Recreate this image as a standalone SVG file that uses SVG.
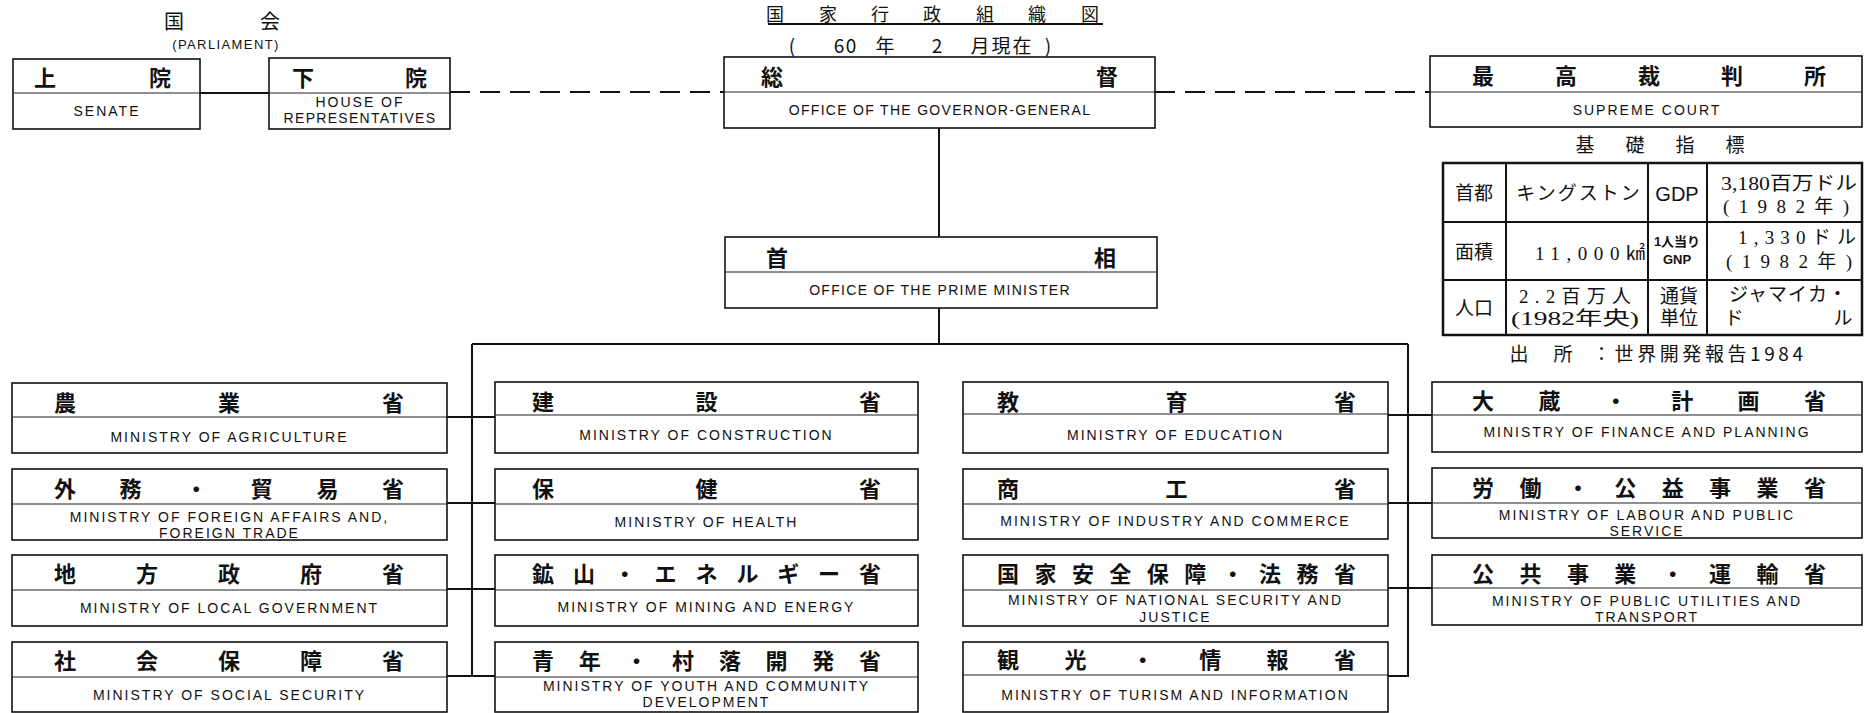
<svg xmlns="http://www.w3.org/2000/svg" width="1865" height="713" viewBox="0 0 1865 713">
<style>
.box{fill:#fff;stroke:#111;stroke-width:1.6}
.dv{stroke:#222;stroke-width:1.2;fill:none}
.jp{font-family:"Noto Sans CJK JP",sans-serif;font-size:22px;font-weight:700;text-anchor:middle;dominant-baseline:central;fill:#111}
.jt{font-family:"Noto Sans CJK JP",sans-serif;font-size:20px;text-anchor:middle;dominant-baseline:central;fill:#111}
.en{font-family:"Liberation Sans",Arial,sans-serif;font-size:14px;letter-spacing:2px;text-anchor:middle;dominant-baseline:central;fill:#111}
.tb{font-family:"Liberation Serif","Noto Sans CJK JP",serif;font-size:19px;text-anchor:middle;dominant-baseline:central;fill:#111}
.ts{font-family:"Liberation Sans","Noto Sans CJK JP",sans-serif;font-size:13px;font-weight:700;text-anchor:middle;dominant-baseline:central;fill:#111}
.ln{stroke:#111;stroke-width:2;fill:none}
.dash{stroke:#111;stroke-width:2;fill:none;stroke-dasharray:20 10}
.tl{stroke:#111;stroke-width:2;fill:none}
</style>

<g id="title">
<text class="jt" style="font-size:18px" x="775 828 880 932 985 1037 1090" y="13">国家行政組織図</text>
<line x1="768" y1="24" x2="1103" y2="24" class="tl" stroke-width="1.5"/>
<text class="jt" style="font-size:19px" x="792 839 851 885 937 980 1001 1022 1048" y="44">(60年2月現在)</text>
</g>

<g id="parliament">
<text class="jt" x="174 270" y="20">国会</text>
<text class="en" style="font-size:13px;letter-spacing:1.4px" x="226" y="44">(PARLIAMENT)</text>
</g>

<g id="senate">
<rect class="box" x="13" y="59" width="187" height="70"/>
<line class="dv" x1="13" y1="93" x2="200" y2="93"/>
<text class="jp" x="45 160" y="76">上院</text>
<text class="en" x="107" y="111">SENATE</text>
</g>

<g id="house">
<rect class="box" x="269" y="58" width="181" height="71"/>
<line class="dv" x1="269" y1="93" x2="450" y2="93"/>
<text class="jp" x="303 416" y="76">下院</text>
<text class="en" x="360" y="102">HOUSE OF</text>
<text class="en" style="letter-spacing:1.3px" x="360" y="118">REPRESENTATIVES</text>
</g>

<g id="governor">
<rect class="box" x="724" y="57" width="431" height="71"/>
<line class="dv" x1="724" y1="92" x2="1155" y2="92"/>
<text class="jp" x="772 1107" y="75">総督</text>
<text class="en" style="letter-spacing:1.3px" x="940" y="110">OFFICE OF THE GOVERNOR-GENERAL</text>
</g>

<g id="supreme">
<rect class="box" x="1430" y="56" width="432" height="71"/>
<line class="dv" x1="1430" y1="92" x2="1862" y2="92"/>
<text class="jp" x="1483 1566 1649 1732 1815" y="74">最高裁判所</text>
<text class="en" x="1647" y="110">SUPREME COURT</text>
</g>

<g id="pm">
<rect class="box" x="725" y="237" width="432" height="71"/>
<line class="dv" x1="725" y1="272" x2="1157" y2="272"/>
<text class="jp" x="777 1105" y="256">首相</text>
<text class="en" style="letter-spacing:1.3px" x="940" y="290">OFFICE OF THE PRIME MINISTER</text>
</g>

<g id="indicators">
<text class="jt" style="font-size:19px" x="1585 1635 1685 1735" y="143">基礎指標</text>
<rect x="1443" y="163" width="419" height="172" fill="#fff" stroke="#111" stroke-width="2.5"/>
<line class="ln" x1="1506" y1="163" x2="1506" y2="335"/>
<line class="ln" x1="1648" y1="163" x2="1648" y2="335"/>
<line class="ln" x1="1707" y1="163" x2="1707" y2="335"/>
<line class="ln" x1="1443" y1="222" x2="1862" y2="222"/>
<line class="ln" x1="1443" y1="280" x2="1862" y2="280"/>
<text class="tb" x="1474" y="193">首都</text>
<text class="tb" x="1579" y="193" letter-spacing="2">キングストン</text>
<text class="tb" style="font-family:'Liberation Sans',sans-serif;font-size:20px" x="1677" y="194">GDP</text>
<text class="tb" x="1789" y="183" textLength="136" lengthAdjust="spacingAndGlyphs">3,180百万ドル</text>
<text class="tb" x="1786" y="206" textLength="126" lengthAdjust="spacing">(1982年)</text>
<text class="tb" x="1474" y="252">面積</text>
<text class="tb" x="1590" y="253" textLength="110" lengthAdjust="spacing">11,000㎢</text>
<text class="ts" x="1677" y="241">1人当り</text>
<text class="ts" x="1677" y="259">GNP</text>
<text class="tb" x="1797" y="237" textLength="118" lengthAdjust="spacing">1,330ドル</text>
<text class="tb" x="1789" y="261" textLength="126" lengthAdjust="spacing">(1982年)</text>
<text class="tb" x="1474" y="308">人口</text>
<text class="tb" x="1575" y="296" textLength="112" lengthAdjust="spacing">2.2百万人</text>
<text class="tb" x="1575" y="318" textLength="128" lengthAdjust="spacingAndGlyphs">(1982年央)</text>
<text class="tb" x="1679" y="296">通貨</text>
<text class="tb" x="1679" y="318">単位</text>
<text class="tb" x="1788" y="294" textLength="118" lengthAdjust="spacing">ジャマイカ・</text>
<text class="tb" x="1734 1843" y="318">ドル</text>
<text class="jt" style="font-size:19px" x="1519 1563" y="352">出所</text>
<text class="jt" style="font-size:19px;text-anchor:start" x="1592" y="352" textLength="211" lengthAdjust="spacing">：世界開発報告1984</text>
</g>

<g id="connectors">
<line class="ln" x1="200" y1="93" x2="269" y2="93"/>
<line class="dash" x1="450" y1="92" x2="724" y2="92"/>
<line class="dash" x1="1155" y1="92" x2="1430" y2="92"/>
<line class="ln" x1="939" y1="128" x2="939" y2="237"/>
<line class="ln" x1="939" y1="308" x2="939" y2="344"/>
<line class="ln" x1="472" y1="344" x2="1408" y2="344"/>
<line class="ln" x1="472" y1="344" x2="472" y2="677"/>
<line class="ln" x1="1408" y1="344" x2="1408" y2="677"/>
<line class="ln" x1="447" y1="417" x2="495" y2="417"/>
<line class="ln" x1="447" y1="503" x2="495" y2="503"/>
<line class="ln" x1="447" y1="589" x2="495" y2="589"/>
<line class="ln" x1="447" y1="676" x2="495" y2="676"/>
<line class="ln" x1="1388" y1="415" x2="1432" y2="415"/>
<line class="ln" x1="1388" y1="503" x2="1432" y2="503"/>
<line class="ln" x1="1388" y1="588" x2="1432" y2="588"/>
<line class="ln" x1="1388" y1="676" x2="1408" y2="676"/>
</g>

<g id="agriculture">
<rect class="box" x="12" y="383" width="435" height="70"/>
<line class="dv" x1="12" y1="417" x2="447" y2="417"/>
<text class="jp" x="65 229 393" y="401">農業省</text>
<text class="en" x="229.5" y="437">MINISTRY OF AGRICULTURE</text>
</g>
<g id="foreign">
<rect class="box" x="12" y="469" width="435" height="71"/>
<line class="dv" x1="12" y1="504" x2="447" y2="504"/>
<text class="jp" x="65 130.6 196.2 261.8 327.4 393" y="487">外務・貿易省</text>
<text class="en" x="229.5" y="517">MINISTRY OF FOREIGN AFFAIRS AND,</text>
<text class="en" x="229.5" y="533">FOREIGN TRADE</text>
</g>
<g id="localgov">
<rect class="box" x="12" y="555" width="435" height="71"/>
<line class="dv" x1="12" y1="590" x2="447" y2="590"/>
<text class="jp" x="65 147 229 311 393" y="572">地方政府省</text>
<text class="en" x="229.5" y="608">MINISTRY OF LOCAL GOVERNMENT</text>
</g>
<g id="social">
<rect class="box" x="12" y="642" width="435" height="70"/>
<line class="dv" x1="12" y1="677" x2="447" y2="677"/>
<text class="jp" x="65 147 229 311 393" y="659">社会保障省</text>
<text class="en" x="229.5" y="695">MINISTRY OF SOCIAL SECURITY</text>
</g>

<g id="construction">
<rect class="box" x="495" y="382" width="423" height="71"/>
<line class="dv" x1="495" y1="415" x2="918" y2="415"/>
<text class="jp" x="543 706.5 870" y="400">建設省</text>
<text class="en" x="706.5" y="435">MINISTRY OF CONSTRUCTION</text>
</g>
<g id="health">
<rect class="box" x="495" y="469" width="423" height="71"/>
<line class="dv" x1="495" y1="504" x2="918" y2="504"/>
<text class="jp" x="543 706.5 870" y="487">保健省</text>
<text class="en" x="706.5" y="522">MINISTRY OF HEALTH</text>
</g>
<g id="mining">
<rect class="box" x="495" y="555" width="423" height="71"/>
<line class="dv" x1="495" y1="590" x2="918" y2="590"/>
<text class="jp" x="543 583.9 624.8 665.6 706.5 747.4 788.3 829.1 870" y="572">鉱山・エネルギー省</text>
<text class="en" x="706.5" y="607">MINISTRY OF MINING AND ENERGY</text>
</g>
<g id="youth">
<rect class="box" x="495" y="642" width="423" height="70"/>
<line class="dv" x1="495" y1="677" x2="918" y2="677"/>
<text class="jp" x="543 589.7 636.4 683.1 729.9 776.6 823.3 870" y="659">青年・村落開発省</text>
<text class="en" x="706.5" y="686">MINISTRY OF YOUTH AND COMMUNITY</text>
<text class="en" x="706.5" y="702">DEVELOPMENT</text>
</g>

<g id="education">
<rect class="box" x="963" y="382" width="425" height="71"/>
<line class="dv" x1="963" y1="414" x2="1388" y2="414"/>
<text class="jp" x="1008 1176.5 1345" y="400">教育省</text>
<text class="en" x="1175.5" y="435">MINISTRY OF EDUCATION</text>
</g>
<g id="industry">
<rect class="box" x="963" y="469" width="425" height="70"/>
<line class="dv" x1="963" y1="504" x2="1388" y2="504"/>
<text class="jp" x="1008 1176.5 1345" y="487">商工省</text>
<text class="en" x="1175.5" y="521">MINISTRY OF INDUSTRY AND COMMERCE</text>
</g>
<g id="security">
<rect class="box" x="963" y="555" width="425" height="71"/>
<line class="dv" x1="963" y1="590" x2="1388" y2="590"/>
<text class="jp" x="1008 1045.4 1082.9 1120.3 1157.8 1195.2 1232.7 1270.1 1307.6 1345" y="572">国家安全保障・法務省</text>
<text class="en" x="1175.5" y="600">MINISTRY OF NATIONAL SECURITY AND</text>
<text class="en" x="1175.5" y="617">JUSTICE</text>
</g>
<g id="tourism">
<rect class="box" x="963" y="642" width="425" height="70"/>
<line class="dv" x1="963" y1="675" x2="1388" y2="675"/>
<text class="jp" x="1008 1075.4 1142.8 1210.2 1277.6 1345" y="658">観光・情報省</text>
<text class="en" x="1175.5" y="695">MINISTRY OF TURISM AND INFORMATION</text>
</g>

<g id="finance">
<rect class="box" x="1432" y="382" width="430" height="70"/>
<line class="dv" x1="1432" y1="415" x2="1862" y2="415"/>
<text class="jp" x="1483 1549.4 1615.8 1682.2 1748.6 1815" y="399">大蔵・計画省</text>
<text class="en" x="1647" y="432">MINISTRY OF FINANCE AND PLANNING</text>
</g>
<g id="labour">
<rect class="box" x="1432" y="468" width="430" height="70"/>
<line class="dv" x1="1432" y1="503" x2="1862" y2="503"/>
<text class="jp" x="1483 1530.4 1577.9 1625.3 1672.7 1720.1 1767.6 1815" y="486">労働・公益事業省</text>
<text class="en" x="1647" y="515">MINISTRY OF LABOUR AND PUBLIC</text>
<text class="en" x="1647" y="531">SERVICE</text>
</g>
<g id="transport">
<rect class="box" x="1432" y="555" width="430" height="70"/>
<line class="dv" x1="1432" y1="588" x2="1862" y2="588"/>
<text class="jp" x="1483 1530.4 1577.9 1625.3 1672.7 1720.1 1767.6 1815" y="572">公共事業・運輸省</text>
<text class="en" x="1647" y="601">MINISTRY OF PUBLIC UTILITIES AND</text>
<text class="en" x="1647" y="617">TRANSPORT</text>
</g>
</svg>
